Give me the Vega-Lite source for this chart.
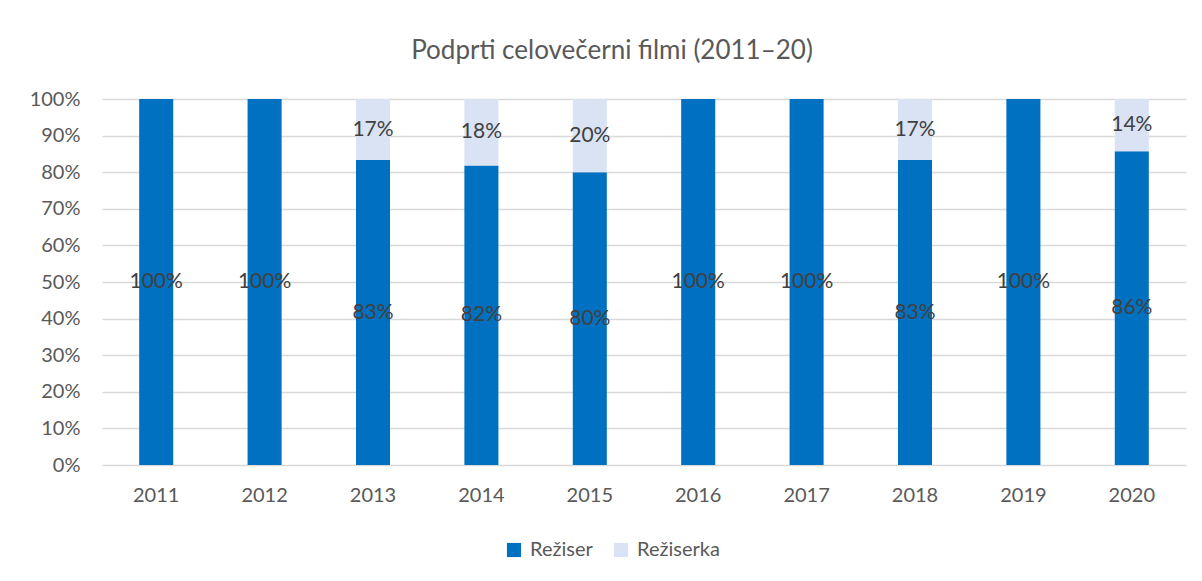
{
  "$schema": "https://vega.github.io/schema/vega-lite/v6.json",
  "autosize": "none",
  "width": 1084,
  "height": 366,
  "padding": {"left": 102, "top": 99, "right": 16, "bottom": 116},
  "background": "white",
  "title": {
    "text": "Podprti celovečerni filmi (2011–20)",
    "font": "Lato",
    "fontSize": 26,
    "fontWeight": "normal",
    "color": "#595959",
    "anchor": "middle",
    "dx": -32,
    "offset": 25
  },
  "data": {
    "values": [
      {"leto": "2011", "spol": "Režiser", "delez": 1.0},
      {"leto": "2012", "spol": "Režiser", "delez": 1.0},
      {"leto": "2013", "spol": "Režiser", "delez": 0.8333},
      {"leto": "2013", "spol": "Režiserka", "delez": 0.1667},
      {"leto": "2014", "spol": "Režiser", "delez": 0.8182},
      {"leto": "2014", "spol": "Režiserka", "delez": 0.1818},
      {"leto": "2015", "spol": "Režiser", "delez": 0.8},
      {"leto": "2015", "spol": "Režiserka", "delez": 0.2},
      {"leto": "2016", "spol": "Režiser", "delez": 1.0},
      {"leto": "2017", "spol": "Režiser", "delez": 1.0},
      {"leto": "2018", "spol": "Režiser", "delez": 0.8333},
      {"leto": "2018", "spol": "Režiserka", "delez": 0.1667},
      {"leto": "2019", "spol": "Režiser", "delez": 1.0},
      {"leto": "2020", "spol": "Režiser", "delez": 0.8571},
      {"leto": "2020", "spol": "Režiserka", "delez": 0.1429}
    ]
  },
  "encoding": {
    "x": {
      "field": "leto",
      "type": "nominal",
      "title": null,
      "scale": {"paddingInner": 0.686, "paddingOuter": 0.343},
      "axis": {
        "labelAngle": 0,
        "labelFont": "Lato",
        "labelFontSize": 20,
        "labelColor": "#595959",
        "labelPadding": 20,
        "domain": false,
        "ticks": false,
        "grid": false
      }
    },
    "y": {
      "field": "delez",
      "type": "quantitative",
      "stack": "zero",
      "title": null,
      "scale": {"domain": [0, 1], "nice": false},
      "axis": {
        "format": ".0%",
        "values": [0, 0.1, 0.2, 0.3, 0.4, 0.5, 0.6, 0.7, 0.8, 0.9, 1.0],
        "labelFont": "Lato",
        "labelFontSize": 20,
        "labelColor": "#595959",
        "labelPadding": 22,
        "domain": false,
        "ticks": false,
        "grid": true,
        "gridColor": "#D9D9D9",
        "gridWidth": 1.5
      }
    },
    "order": {"field": "spol", "sort": "ascending"}
  },
  "layer": [
    {
      "mark": {"type": "bar"},
      "encoding": {
        "color": {
          "field": "spol",
          "type": "nominal",
          "scale": {"domain": ["Režiser", "Režiserka"], "range": ["#0070C0", "#DAE3F3"]},
          "legend": {
            "title": null,
            "orient": "none",
            "direction": "horizontal",
            "legendX": 402,
            "legendY": 441,
            "symbolType": "square",
            "symbolSize": 200,
            "symbolStrokeWidth": 0,
            "labelFont": "Lato",
            "labelFontSize": 20,
            "labelColor": "#595959",
            "columnPadding": 18,
            "labelOffset": 6
          }
        }
      }
    },
    {
      "mark": {"type": "text", "font": "Lato", "fontSize": 21, "color": "#404040", "baseline": "middle", "align": "center"},
      "encoding": {
        "y": {"field": "delez", "type": "quantitative", "stack": "zero", "bandPosition": 0.5},
        "text": {"field": "delez", "type": "quantitative", "format": ".0%"}
      }
    }
  ],
  "config": {
    "view": {"stroke": null}
  }
}
